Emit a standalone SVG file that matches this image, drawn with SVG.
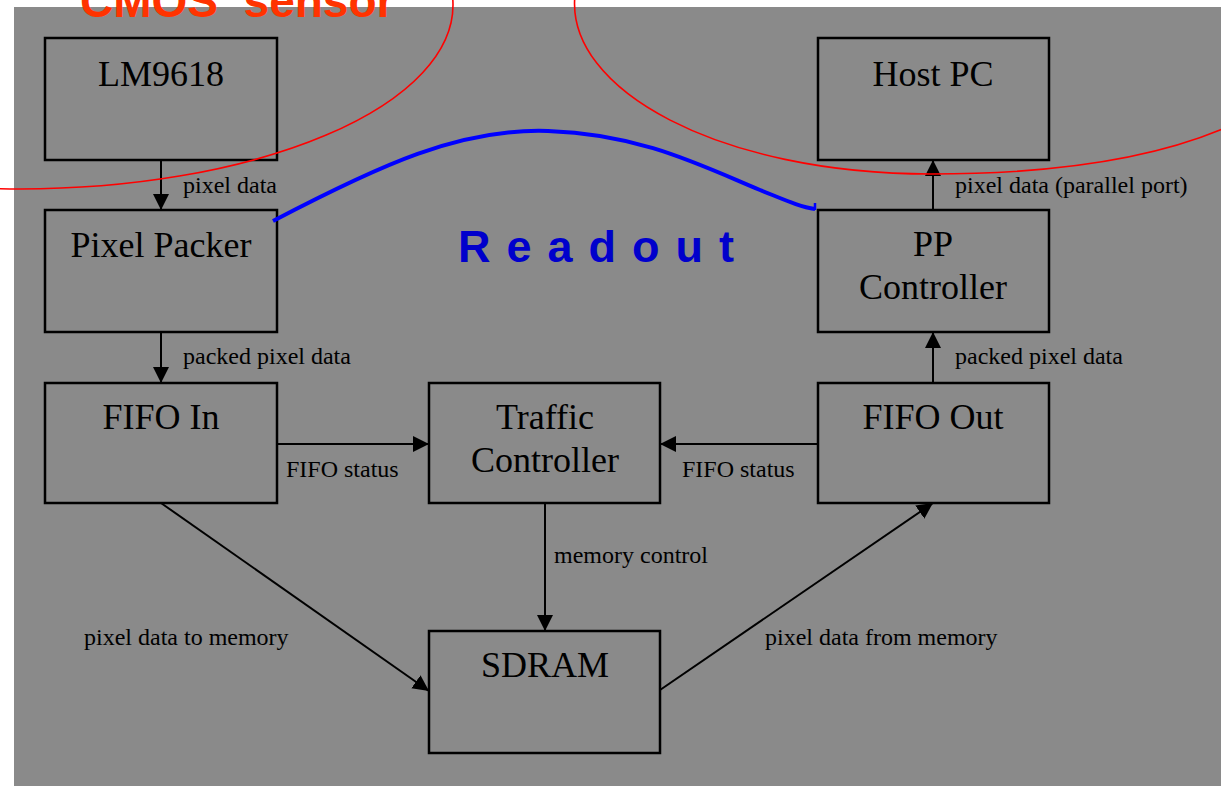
<svg xmlns="http://www.w3.org/2000/svg" width="1221" height="786" viewBox="0 0 1221 786">
<defs>
<marker id="ah" markerUnits="userSpaceOnUse" markerWidth="16" markerHeight="16" refX="16" refY="8" orient="auto">
<path d="M0,0 L16,8 L0,16 z" fill="#000"/>
</marker>
<style>
.box{fill:none;stroke:#000;stroke-width:2.5}
.nt{font-family:"Liberation Serif","Times New Roman",serif;font-size:36px;fill:#000;text-anchor:middle}
.lb{font-family:"Liberation Serif","Times New Roman",serif;font-size:24px;fill:#000}
.cn{fill:none;stroke:#000;stroke-width:2;marker-end:url(#ah)}
.red{fill:none;stroke:#ff0000;stroke-width:1.6}
</style>
</defs>
<rect x="0" y="0" width="1221" height="786" fill="#ffffff"/>
<rect x="14" y="7" width="1207" height="779" fill="#8a8a8a"/>

<g id="connectors">
<line class="cn" x1="161" y1="160" x2="161" y2="210"/>
<line class="cn" x1="161" y1="332" x2="161" y2="383"/>
<line class="cn" x1="277" y1="444" x2="429" y2="444"/>
<line class="cn" x1="818" y1="444" x2="660" y2="444"/>
<line class="cn" x1="545" y1="503" x2="545" y2="631"/>
<line class="cn" x1="161" y1="503" x2="429" y2="691"/>
<line class="cn" x1="660" y1="690" x2="933" y2="503"/>
<line class="cn" x1="933" y1="383" x2="933" y2="332"/>
<line class="cn" x1="933" y1="210" x2="933" y2="160"/>
<text class="lb" x="183" y="193">pixel data</text>
<text class="lb" x="183" y="364">packed pixel data</text>
<text class="lb" x="286" y="477">FIFO status</text>
<text class="lb" x="682" y="477">FIFO status</text>
<text class="lb" x="554" y="563">memory control</text>
<text class="lb" x="84" y="645">pixel data to memory</text>
<text class="lb" x="765" y="645">pixel data from memory</text>
<text class="lb" x="955" y="364">packed pixel data</text>
<text class="lb" x="955" y="193">pixel data (parallel port)</text>
</g>

<g id="lm9618">
<rect class="box" x="45" y="38" width="232" height="122"/>
<text class="nt" x="161" y="86">LM9618</text>
</g>
<g id="pixel-packer">
<rect class="box" x="45" y="210" width="232" height="122"/>
<text class="nt" x="161" y="257">Pixel Packer</text>
</g>
<g id="fifo-in">
<rect class="box" x="45" y="383" width="232" height="120"/>
<text class="nt" x="161" y="429">FIFO In</text>
</g>
<g id="traffic-controller">
<rect class="box" x="429" y="383" width="231" height="120"/>
<text class="nt" x="545" y="429">Traffic</text>
<text class="nt" x="545" y="472">Controller</text>
</g>
<g id="sdram">
<rect class="box" x="429" y="631" width="231" height="122"/>
<text class="nt" x="545" y="677">SDRAM</text>
</g>
<g id="fifo-out">
<rect class="box" x="818" y="383" width="231" height="120"/>
<text class="nt" x="933" y="429">FIFO Out</text>
</g>
<g id="pp-controller">
<rect class="box" x="818" y="210" width="231" height="122"/>
<text class="nt" x="933" y="256">PP</text>
<text class="nt" x="933" y="299">Controller</text>
</g>
<g id="host-pc">
<rect class="box" x="818" y="38" width="231" height="122"/>
<text class="nt" x="933" y="86">Host PC</text>
</g>

<g id="annotations">
<ellipse class="red" cx="20" cy="5" rx="433" ry="184"/>
<path class="red" d="M575,-5 C565,90 720,174 931,174 C1050,174 1150,160 1225,128"/>
<path d="M273,221 C380,165 460,128 548,131 C640,134 700,165 760,190 C785,200 800,207 815,209" fill="none" stroke="#0000ff" stroke-width="4"/>
<path d="M815,210 L815,203" fill="none" stroke="#0000ff" stroke-width="2.5"/>
<text x="458" y="262" font-family="Liberation Sans,Arial,sans-serif" font-weight="bold" font-size="45" letter-spacing="16" fill="#0000cc">Readout</text>
<text x="80" y="17" font-family="Liberation Sans,Arial,sans-serif" font-weight="bold" font-size="46" fill="#ff3300" xml:space="preserve">CMOS  sensor</text>
</g>
</svg>
